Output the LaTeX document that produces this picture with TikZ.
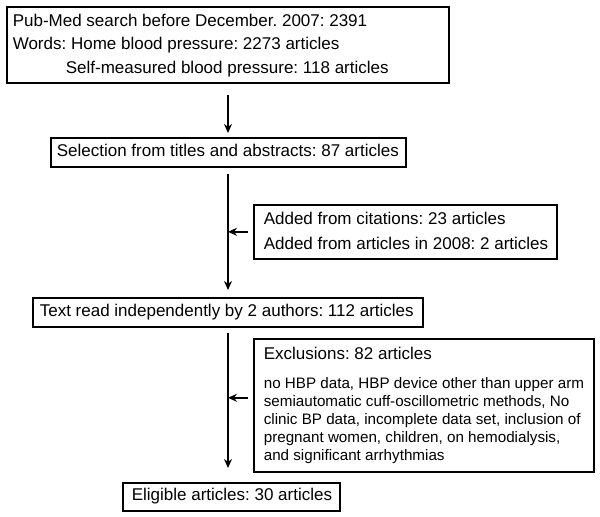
\documentclass[tikz,border=0pt]{standalone}
\usepackage{fontspec}
\setmainfont{Liberation Sans}
\usetikzlibrary{arrows.meta}

% box text: width, left padding, lines
\newcommand{\steptext}[3]{\makebox[#1][l]{\hspace*{#2}\begin{tabular}{@{}l@{}}#3\end{tabular}}}

\tikzset{
  stepbox/.style={draw,line width=0.8pt,anchor=north west,inner sep=0pt},
  flow/.style={line width=0.9pt,-{Stealth[length=4.5pt,width=4pt]}}
}

\begin{document}
\frenchspacing
\begin{tikzpicture}[x=0.5pt,y=-0.5pt]
  \useasboundingbox (0,0) rectangle (600,516);
  \coordinate (axis) at (228,0);
  % main column
  \node [stepbox,minimum height=38pt,font=\fontsize{8.5}{11.75}\selectfont] (search) at (6,6)
    {\steptext{221pt}{3pt}{Pub-Med search before December. 2007: 2391\\
     Words: Home blood pressure: 2273 articles\\
     \hspace*{26.5pt}Self-measured blood pressure: 118 articles}};
  \node [stepbox,minimum height=14.5pt,font=\fontsize{8.5}{10}\selectfont] (select) at (50,137)
    {\steptext{177.5pt}{3pt}{Selection from titles and abstracts: 87 articles}};
  \node [stepbox,minimum height=14.5pt,font=\fontsize{8.5}{10}\selectfont] (read) at (32,297)
    {\steptext{195pt}{3.5pt}{Text read independently by 2 authors: 112 articles}};
  \node [stepbox,minimum height=14pt,font=\fontsize{8.5}{10}\selectfont] (eligible) at (122,482)
    {\steptext{108.5pt}{4.5pt}{Eligible articles: 30 articles}};
  % side boxes
  \node [stepbox,minimum height=27pt,font=\fontsize{8.5}{12.5}\selectfont] (added) at (253,204)
    {\steptext{151.5pt}{5pt}{Added from citations: 23 articles\\
     Added from articles in 2008: 2 articles}};
  \node [stepbox,minimum height=66.5pt,font=\fontsize{8.5}{10}\selectfont] (excl) at (253,338)
    {\steptext{170pt}{5pt}{Exclusions: 82 articles\\[4.5pt]
     {\fontsize{7.6}{9}\selectfont\begin{tabular}[t]{@{}l@{}}
     no HBP data, HBP device other than upper arm\\
     semiautomatic cuff-oscillometric methods, No\\
     clinic BP data, incomplete data set, inclusion of\\
     pregnant women, children, on hemodialysis,\\
     and significant arrhythmias\end{tabular}}}};
  % arrows
  \draw [flow,shorten <=5.5pt,shorten >=2pt] (search.south -| axis) -- (select.north -| axis);
  \draw [flow,shorten <=3pt,shorten >=3.5pt] (select.south -| axis) -- (read.north -| axis);
  \draw [flow,shorten <=2.5pt,shorten >=7pt] (read.south -| axis) -- (eligible.north -| axis);
  \draw [flow,shorten <=2.5pt] (added.west) -- (added.west -| axis);
  \draw [flow,shorten <=2.5pt] ([yshift=3.75pt]excl.west) -- ([yshift=3.75pt]excl.west -| axis);
\end{tikzpicture}
\end{document}
